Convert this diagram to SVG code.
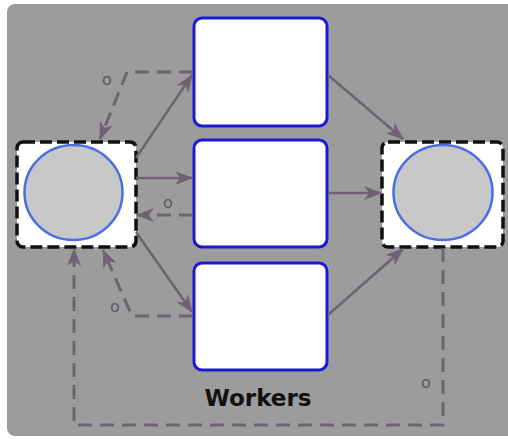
<svg xmlns="http://www.w3.org/2000/svg" width="508" height="439" viewBox="0 0 508 439">
  <defs>
    <style>
      .panel { fill: #9c9c9c; }
      .frame { fill: #ffffff; stroke: #111111; stroke-width: 3.5; stroke-dasharray: 12 5; }
      .disc { fill: #c8c8c8; stroke: #4a6fe3; stroke-width: 2.5; }
      .worker { fill: #ffffff; stroke: #1a1ad6; stroke-width: 3; }
      .edge { fill: none; stroke: #6f6373; stroke-width: 2.5; marker-end: url(#head); }
      .back { fill: none; stroke: #6f6373; stroke-width: 3; stroke-dasharray: 14 8; marker-end: url(#head); }
      .tag { font-family: "DejaVu Sans", sans-serif; font-size: 16px; fill: #5e5563; text-anchor: middle; }
      .title { font-family: "DejaVu Sans", sans-serif; font-weight: bold; font-size: 23px; fill: #111111; text-anchor: middle; }
    </style>
    <marker id="head" viewBox="0 0 18 14" markerWidth="18" markerHeight="14" refX="17" refY="7" orient="auto" markerUnits="userSpaceOnUse">
      <path d="M0,0 L18,7 L0,14 L5,7 z" fill="#6f6373"/>
    </marker>
  </defs>

  <rect width="508" height="439" fill="#ffffff"/>
  <rect class="panel" x="7" y="4" width="512" height="432" rx="8"/>

  <g id="source">
    <rect class="frame" x="17" y="142" width="119" height="105" rx="6"/>
    <ellipse class="disc" cx="73.5" cy="192.5" rx="49" ry="47.5"/>
  </g>

  <g id="sink">
    <rect class="frame" x="382" y="142" width="121" height="105" rx="6"/>
    <ellipse class="disc" cx="443" cy="192.5" rx="49.5" ry="47.5"/>
  </g>

  <g id="worker1">
    <rect class="worker" x="194" y="18" width="133" height="108" rx="8"/>
  </g>
  <g id="worker2">
    <rect class="worker" x="194" y="140" width="133" height="107" rx="8"/>
  </g>
  <g id="worker3">
    <rect class="worker" x="194" y="263" width="133" height="107" rx="8"/>
  </g>

  <g id="connectors">
    <path class="edge" d="M136,158 L192,75"/>
    <path class="edge" d="M136,178 L192,178"/>
    <path class="edge" d="M136,232 L192,312"/>
    <path class="edge" d="M328,75 L403,139"/>
    <path class="edge" d="M328,193 L381,193"/>
    <path class="edge" d="M328,315 L403,249"/>

    <path class="back" d="M193,72 H127 L100,139"/>
    <path class="back" d="M193,215 H137"/>
    <path class="back" d="M193,316 H132 L103,250"/>
    <path class="back" d="M443,248 V425 H74 V249"/>

    <text class="tag" x="107" y="85">o</text>
    <text class="tag" x="168" y="208">o</text>
    <text class="tag" x="115" y="312">o</text>
    <text class="tag" x="426" y="388">o</text>
  </g>

  <text class="title" x="258" y="406">Workers</text>
</svg>
